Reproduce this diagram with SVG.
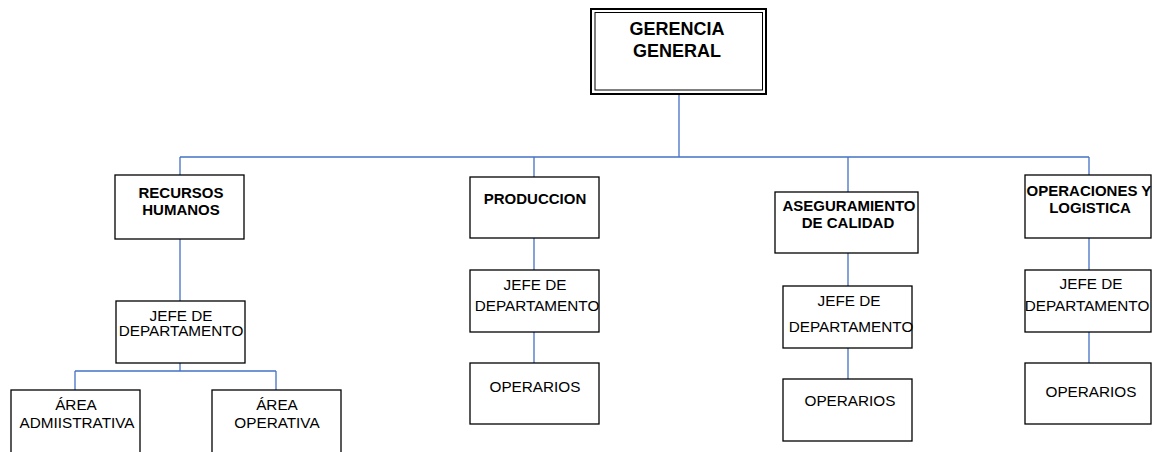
<svg xmlns="http://www.w3.org/2000/svg" width="1166" height="452" viewBox="0 0 1166 452">
<style>
.box{fill:#fff;stroke:#000;stroke-width:1.3}
.c{fill:none;stroke:#4472C4;stroke-width:1.3}
.b{font-family:"Liberation Sans",Arial,sans-serif;font-weight:bold;font-size:15px;fill:#000;text-anchor:middle}
.r{font-family:"Liberation Sans",Arial,sans-serif;font-size:15.3px;fill:#000;text-anchor:middle}
</style>
<rect width="1166" height="452" fill="#fff"/>
<g id="connectors">
<path class="c" d="M679 94V157M180 157H1089M180 157V175M534 157V177M848 157V192M1089 157V175"/>
<path class="c" d="M180 239V301M180 363V371M75 371H276M75 371V390M276 371V390"/>
<path class="c" d="M534 238V270M534 332V363"/>
<path class="c" d="M848 253V286M848 348V379"/>
<path class="c" d="M1089 238V270M1089 332V363"/>
</g>
<g id="gerencia">
<rect x="591" y="9" width="175" height="85" fill="#fff" stroke="#000" stroke-width="2"/>
<rect x="595" y="12.5" width="167.5" height="77.5" fill="none" stroke="#000" stroke-width="1"/>
<text class="b" style="font-size:18px" x="677" y="35">GERENCIA</text>
<text class="b" style="font-size:18px" x="677" y="57">GENERAL</text>
</g>
<g id="rrhh">
<rect class="box" x="115" y="175" width="129" height="64"/>
<text class="b" x="181" y="198">RECURSOS</text>
<text class="b" x="181" y="215">HUMANOS</text>
</g>
<g id="jefe-rrhh">
<rect class="box" x="116" y="301" width="129" height="62"/>
<text class="r" x="181" y="321">JEFE DE</text>
<text class="r" x="181" y="336">DEPARTAMENTO</text>
</g>
<g id="area-adm">
<rect class="box" x="11" y="390" width="129" height="70"/>
<text class="r" x="76" y="410">ÁREA</text>
<text class="r" x="77" y="428">ADMIISTRATIVA</text>
</g>
<g id="area-op">
<rect class="box" x="212" y="390" width="129" height="70"/>
<text class="r" x="277" y="410">ÁREA</text>
<text class="r" x="277" y="428">OPERATIVA</text>
</g>
<g id="produccion">
<rect class="box" x="470" y="177" width="129" height="61"/>
<text class="b" x="535" y="204">PRODUCCION</text>
</g>
<g id="jefe-prod">
<rect class="box" x="470" y="270" width="129" height="62"/>
<text class="r" x="535" y="290">JEFE DE</text>
<text class="r" x="537" y="311">DEPARTAMENTO</text>
</g>
<g id="oper-prod">
<rect class="box" x="470" y="363" width="129" height="61"/>
<text class="r" x="535" y="392">OPERARIOS</text>
</g>
<g id="aseguramiento">
<rect class="box" x="775" y="192" width="143" height="61"/>
<text class="b" x="849" y="211">ASEGURAMIENTO</text>
<text class="b" x="848" y="228">DE CALIDAD</text>
</g>
<g id="jefe-aseg">
<rect class="box" x="783" y="286" width="129" height="62"/>
<text class="r" x="849" y="306">JEFE DE</text>
<text class="r" x="851" y="332">DEPARTAMENTO</text>
</g>
<g id="oper-aseg">
<rect class="box" x="783" y="379" width="129" height="62"/>
<text class="r" x="850" y="406">OPERARIOS</text>
</g>
<g id="operaciones">
<rect class="box" x="1025" y="175" width="126" height="63"/>
<text class="b" x="1089" y="196">OPERACIONES Y</text>
<text class="b" x="1090" y="213">LOGISTICA</text>
</g>
<g id="jefe-oper">
<rect class="box" x="1025" y="270" width="126" height="62"/>
<text class="r" x="1091" y="289">JEFE DE</text>
<text class="r" x="1087" y="311">DEPARTAMENTO</text>
</g>
<g id="oper-oper">
<rect class="box" x="1025" y="363" width="126" height="61"/>
<text class="r" x="1091" y="397">OPERARIOS</text>
</g>
</svg>
